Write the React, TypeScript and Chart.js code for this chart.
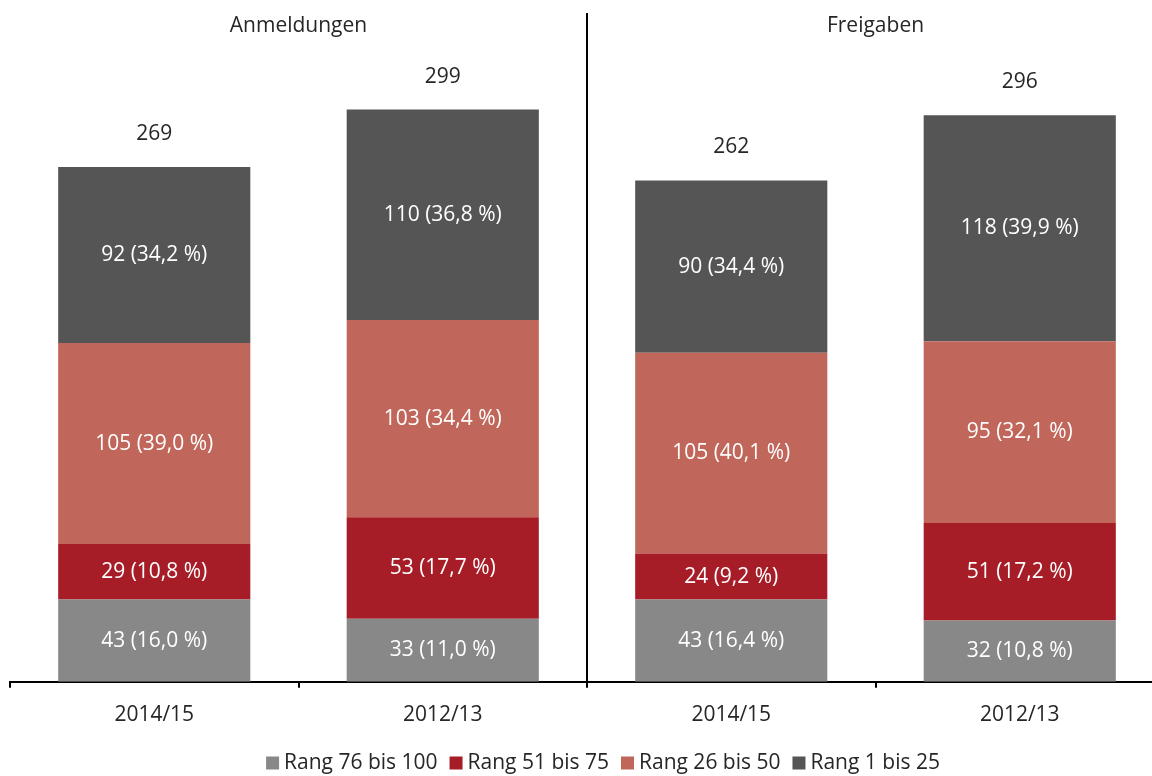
import React, { useEffect, useRef } from "react";
import { Chart, registerables } from "chart.js";

Chart.register(...registerables);

const categories = ["2014/15", "2012/13", "2014/15", "2012/13"];
const groupTitles = ["Anmeldungen", "Freigaben"];
const seriesNames = ["Rang 76 bis 100", "Rang 51 bis 75", "Rang 26 bis 50", "Rang 1 bis 25"];
const rang76bis100 = [43, 33, 43, 32];
const rang51bis75 = [29, 53, 24, 51];
const rang26bis50 = [105, 103, 105, 95];
const rang1bis25 = [92, 110, 90, 118];
const seriesColors = ["#888888", "#A71D27", "#C0665A", "#555555"];
const yMax = 350;

const FONT = "'Open Sans', 'Noto Sans', sans-serif";
const TEXT = "#262626";

const fmtPct = (v: number, t: number) => (Math.round((v / t) * 1000) / 10).toFixed(1).replace(".", ",");

const labelPlugin = {
  id: "customLabels",
  afterDatasetsDraw(chart: any) {
    const ctx = chart.ctx;
    const { chartArea } = chart;
    const xs = chart.scales.x;
    const n = chart.data.labels.length;
    const totals: number[] = [];
    for (let j = 0; j < n; j++) {
      let t = 0;
      chart.data.datasets.forEach((d: any) => (t += d.data[j]));
      totals.push(t);
    }
    ctx.save();
    ctx.font = `21px ${FONT}`;
    ctx.textAlign = "center";
    ctx.textBaseline = "middle";
    // segment labels
    chart.data.datasets.forEach((d: any, i: number) => {
      const meta = chart.getDatasetMeta(i);
      meta.data.forEach((el: any, j: number) => {
        const v = d.data[j];
        const cy = (el.y + el.base) / 2;
        ctx.fillStyle = "#FFFFFF";
        ctx.fillText(`${v} (${fmtPct(v, totals[j])} %)`, el.x, cy);
      });
    });
    // totals
    const topMeta = chart.getDatasetMeta(chart.data.datasets.length - 1);
    topMeta.data.forEach((el: any, j: number) => {
      ctx.fillStyle = TEXT;
      ctx.fillText(String(totals[j]), el.x, el.y - 33);
    });
    // group titles
    groupTitles.forEach((g, k) => {
      const x = (xs.getPixelForValue(2 * k) + xs.getPixelForValue(2 * k + 1)) / 2;
      ctx.fillStyle = TEXT;
      ctx.fillText(g, x, 26);
    });
    // divider
    const dx = Math.round((xs.getPixelForValue(1) + xs.getPixelForValue(2)) / 2);
    ctx.strokeStyle = "#000000";
    ctx.lineWidth = 2;
    ctx.beginPath();
    ctx.moveTo(dx, chartArea.top + 1);
    ctx.lineTo(dx, chartArea.bottom);
    ctx.stroke();
    // legend
    ctx.font = `21px ${FONT}`;
    const box = 13;
    const gapBox = 5;
    const gapItem = 12;
    const widths = seriesNames.map((s) => ctx.measureText(s).width);
    const total = widths.reduce((a, w) => a + box + gapBox + w, 0) + gapItem * (seriesNames.length - 1);
    let x = 603 - total / 2;
    const ly = 763;
    ctx.textAlign = "left";
    seriesNames.forEach((s, i) => {
      ctx.fillStyle = seriesColors[i];
      ctx.fillRect(x, ly - box / 2, box, box);
      x += box + gapBox;
      ctx.fillStyle = TEXT;
      ctx.fillText(s, x, ly);
      x += widths[i] + gapItem;
    });
    ctx.restore();
  },
};

export default function App() {
  const ref = useRef<HTMLCanvasElement | null>(null);
  useEffect(() => {
    if (!ref.current) return;
    const seriesData = [rang76bis100, rang51bis75, rang26bis50, rang1bis25];
    const chart = new Chart(ref.current, {
      type: "bar",
      data: {
        labels: categories,
        datasets: seriesNames.map((name, i) => ({
          label: name,
          data: seriesData[i],
          backgroundColor: seriesColors[i],
          borderWidth: 0,
          categoryPercentage: 1,
          barPercentage: 0.666,
        })),
      },
      options: {
        responsive: false,
        animation: false,
        layout: { padding: { left: 10, right: 6, top: 12, bottom: 33 } },
        plugins: { legend: { display: false }, tooltip: { enabled: false }, title: { display: false } },
        scales: {
          x: {
            stacked: true,
            offset: true,
            grid: {
              offset: true,
              drawOnChartArea: false,
              drawTicks: true,
              tickLength: 6,
              lineWidth: 2,
              color: "#000000",
            },
            border: { display: true, color: "#000000", width: 2 },
            ticks: { color: TEXT, font: { family: FONT, size: 21 }, padding: 15, maxRotation: 0 },
          },
          y: {
            stacked: true,
            display: false,
            min: 0,
            max: yMax,
          },
        },
      },
      plugins: [labelPlugin],
    });
    return () => chart.destroy();
  }, []);
  return (
    <div style={{ position: "fixed", left: 0, top: 0, width: 1152, height: 776, overflow: "hidden", background: "#fff" }}>
      <canvas ref={ref} width={1170} height={776} style={{ display: "block", width: 1170, height: 776 }} />
    </div>
  );
}
